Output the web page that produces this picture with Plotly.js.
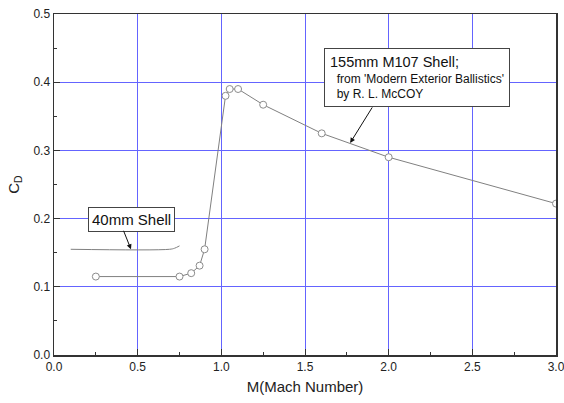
<!DOCTYPE html>
<html>
<head>
<meta charset="utf-8">
<script src="https://cdn.plot.ly/plotly-3.0.1.min.js"></script>
<style>html,body{margin:0;padding:0;background:#fff;}#chart{width:564px;height:403px;}</style>
</head>
<body>
<div id="chart"></div>
<script>
// 155mm M107 shell drag coefficient (McCoy)
var machM107 = [0.25, 0.75, 0.82, 0.87, 0.90, 1.025, 1.05, 1.10, 1.25, 1.60, 2.00, 3.00];
var cdM107   = [0.115, 0.115, 0.120, 0.131, 0.155, 0.380, 0.390, 0.390, 0.367, 0.325, 0.290, 0.222];
// 40mm shell drag curve
var mach40 = [0.10, 0.69, 0.72, 0.75];
var cd40   = [0.155, 0.155, 0.1565, 0.160];

var xTicks = [0, 0.5, 1.0, 1.5, 2.0, 2.5, 3.0];
var xTickText = ['0.0', '0.5', '1.0', '1.5', '2.0', '2.5', '3.0'];
var yTicks = [0, 0.1, 0.2, 0.3, 0.4, 0.5];
var yTickText = ['0.0', '0.1', '0.2', '0.3', '0.4', '0.5'];

var FONT = 'Liberation Sans, Arial, sans-serif';
var GRID = 'rgb(100,100,255)';

var traces = [
  {
    x: machM107, y: cdM107, type: 'scatter', mode: 'lines+markers',
    line: {color: '#808080', width: 1},
    marker: {symbol: 'circle', size: 7, color: '#ffffff', line: {color: '#8c8c8c', width: 1}},
    showlegend: false, hoverinfo: 'x+y'
  },
  {
    x: mach40, y: cd40, type: 'scatter', mode: 'lines',
    line: {color: '#808080', width: 1, shape: 'spline'},
    showlegend: false, hoverinfo: 'x+y'
  }
];

var layout = {
  width: 564, height: 403,
  margin: {l: 54, r: 8, t: 14, b: 48},
  paper_bgcolor: '#ffffff', plot_bgcolor: '#ffffff',
  font: {family: FONT, size: 12, color: '#222222'},
  xaxis: {
    range: [0, 3], tickvals: xTicks, ticktext: xTickText,
    ticks: 'inside', ticklen: 6, tickwidth: 1, tickcolor: '#333333',
    minor: {dtick: 0.25, ticks: 'inside', ticklen: 3, tickwidth: 1, tickcolor: '#333333', showgrid: false},
    showgrid: true, gridcolor: GRID, gridwidth: 1,
    showline: true, linecolor: '#333333', linewidth: 1.5, mirror: true,
    zeroline: false, ticklabeloverflow: 'allow',
    tickfont: {family: FONT, size: 12, color: '#222222'},
    title: {text: 'M(Mach Number)', font: {family: FONT, size: 15, color: '#222222'}, standoff: 8}
  },
  yaxis: {
    range: [0, 0.5], tickvals: yTicks, ticktext: yTickText,
    ticks: 'inside', ticklen: 6, tickwidth: 1, tickcolor: '#333333',
    minor: {dtick: 0.05, ticks: 'inside', ticklen: 3, tickwidth: 1, tickcolor: '#333333', showgrid: false},
    showgrid: true, gridcolor: GRID, gridwidth: 1,
    showline: true, linecolor: '#333333', linewidth: 1.5, mirror: true,
    zeroline: false,
    tickfont: {family: FONT, size: 12, color: '#222222'},
    title: {text: 'C<sub>D</sub>', font: {family: FONT, size: 15, color: '#222222'}, standoff: 10}
  },
  annotations: [
    {
      xref: 'x', yref: 'y', x: 2.168, y: 0.4065, xanchor: 'center', yanchor: 'middle',
      text: '<span style="font-size:14.5px">155mm M107 Shell;</span><br>&nbsp;&nbsp;from \'Modern Exterior Ballistics\'<br>&nbsp;&nbsp;by R. L. McCOY',
      align: 'left', showarrow: false,
      font: {family: FONT, size: 12, color: '#111111'},
      bgcolor: '#ffffff', bordercolor: '#444444', borderwidth: 1, borderpad: 5
    },
    {
      xref: 'x', yref: 'y', x: 1.77, y: 0.311, text: '', showarrow: true,
      ax: 23, ay: -37, arrowhead: 2, arrowsize: 1, arrowwidth: 1, arrowcolor: '#111111', standoff: 0
    },
    {
      xref: 'x', yref: 'y', x: 0.466, y: 0.199, xanchor: 'center', yanchor: 'middle',
      text: '40mm Shell', align: 'left', showarrow: false,
      font: {family: FONT, size: 15, color: '#111111'},
      bgcolor: '#ffffff', bordercolor: '#444444', borderwidth: 1, borderpad: 3
    },
    {
      xref: 'x', yref: 'y', x: 0.46, y: 0.155, text: '', showarrow: true,
      ax: -8, ay: -20, arrowhead: 2, arrowsize: 1, arrowwidth: 1, arrowcolor: '#111111', standoff: 0
    }
  ]
};

Plotly.newPlot('chart', traces, layout, {displayModeBar: false, staticPlot: true});
</script>
</body>
</html>
